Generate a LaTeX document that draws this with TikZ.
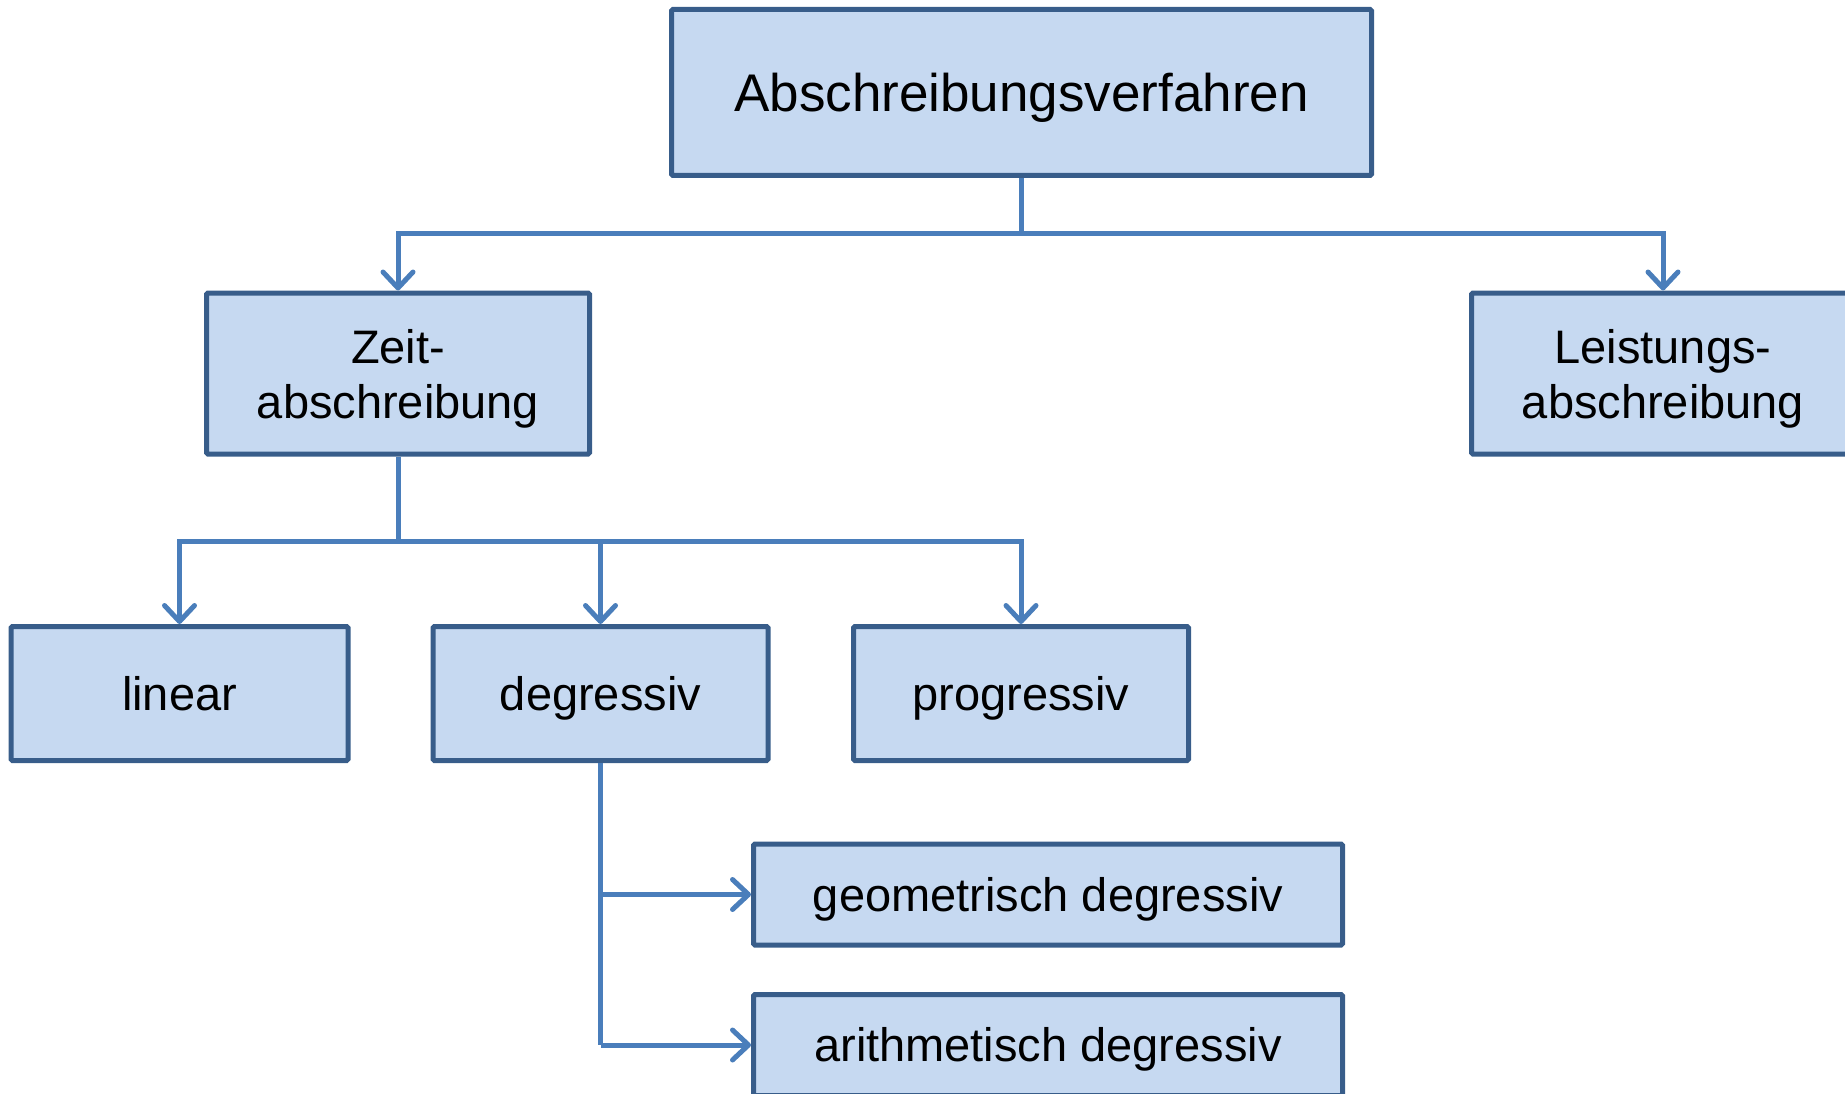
\documentclass[tikz,border=0pt]{standalone}
\usepackage{fontspec}
\setmainfont{Liberation Sans}
\usetikzlibrary{arrows.meta}
\definecolor{boxfill}{HTML}{C6D9F1}
\definecolor{boxline}{HTML}{385D8A}
\definecolor{conncol}{HTML}{4A7EBB}
\begin{document}
\begin{tikzpicture}[x=1pt,y=-1pt,
  box/.style={draw=boxline, fill=boxfill, line width=5pt, rounded corners=1.5pt,
    inner sep=0pt, text depth=0pt, font=\fontsize{47}{55}\selectfont},
  one/.style={text height=33.7pt},
  two/.style={align=center, text depth=-5pt},
  conn/.style={draw=conncol, line width=5pt},
  arr/.style={conn, -{Straight Barb[length=16pt,width=30pt,line width=5pt,round]}}]
\useasboundingbox (0,0) rectangle (1845,1094);
\clip (0,0) rectangle (1845,1094);
\node[box, text height=38pt, minimum width=700pt, minimum height=166pt, font=\fontsize{53}{60}\selectfont] (top) at (1021.5,92.5) {Abschreibungsverfahren};
\node[box, two, minimum width=383pt, minimum height=161pt] (zeit) at (398,373.5) {Zeit-\\abschreibung};
\node[box, two, minimum width=383pt, minimum height=161pt] (leist) at (1663,373.5) {Leistungs-\\abschreibung};
\node[box, one, minimum width=337pt, minimum height=134pt] (lin) at (179.5,693.5) {linear};
\node[box, one, minimum width=335pt, minimum height=134pt] (deg) at (600.5,693.5) {degressiv};
\node[box, one, minimum width=335pt, minimum height=134pt] (prog) at (1021,693.5) {progressiv};
\node[box, one, minimum width=589pt, minimum height=101pt] (geo) at (1048,894.5) {geometrisch degressiv};
\node[box, one, minimum width=589pt, minimum height=101pt] (ari) at (1048,1045) {arithmetisch degressiv};
\coordinate (j1) at (1021.5,234);
\coordinate (j2) at (398,541);
\coordinate (j3) at (600.5,894.5);
\coordinate (j4) at (600.5,1045);
\draw[conn] (top.south) -- (j1);
\draw[arr] (j1) -| (zeit.north);
\draw[arr] (j1) -| (leist.north);
\draw[conn] (zeit.south) -- (j2);
\draw[arr] (j2) -| (lin.north);
\draw[arr] (j2) -| (deg.north);
\draw[arr] (j2) -| (prog.north);
\draw[conn] (deg.south) -- (j4);
\draw[arr] (j3) -- (geo.west);
\draw[arr] (j4) -- (ari.west);
\end{tikzpicture}
\end{document}
